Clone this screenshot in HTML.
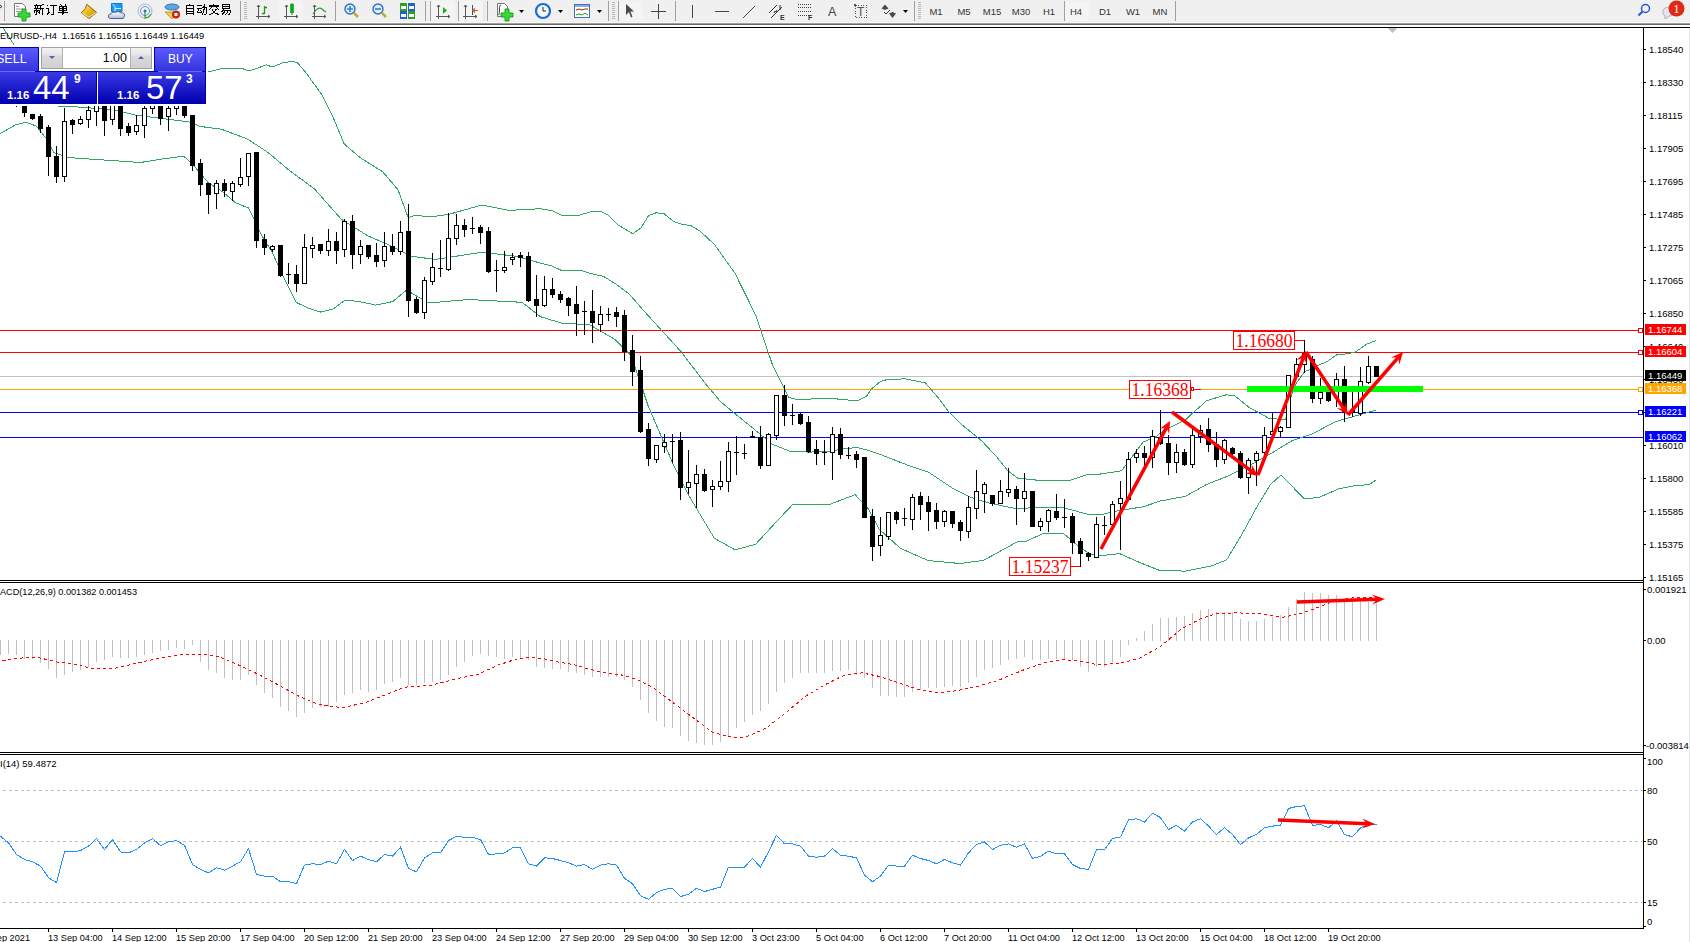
<!DOCTYPE html><html><head><meta charset="utf-8"><style>html,body{margin:0;padding:0;background:#fff;overflow:hidden;width:1690px;height:942px;} svg{display:block;font-family:"Liberation Sans", sans-serif;}</style></head><body>
<svg width="1690" height="942" viewBox="0 0 1690 942">
<rect x="0" y="0" width="1690" height="942" fill="#ffffff"/>
<rect x="0" y="0" width="1690" height="22" fill="#f0f0f0"/>
<rect x="0" y="22" width="1690" height="1" fill="#f8f8f8"/>
<rect x="0" y="23" width="1690" height="1" fill="#a0a0a0"/>
<rect x="0" y="24" width="1690" height="1" fill="#696969"/>
<rect x="0" y="27" width="1690" height="1" fill="#000000"/>
<g shape-rendering="crispEdges">
<rect x="1643" y="27" width="1" height="902" fill="#000"/>
<rect x="0" y="580" width="1644" height="1" fill="#000"/>
<rect x="0" y="582" width="1644" height="1" fill="#000"/>
<rect x="0" y="752" width="1644" height="1" fill="#000"/>
<rect x="0" y="754" width="1644" height="1" fill="#000"/>
<rect x="0" y="928" width="1644" height="1" fill="#000"/>
<rect x="1689" y="28" width="1" height="914" fill="#e3e3e3"/>
<polygon points="1388,28 1397,28 1392.5,33" fill="#c0c0c0"/>
<rect x="1644" y="49" width="2" height="1" fill="#000"/>
<text x="1649" y="53" font-size="9.5" fill="#000" text-anchor="start" font-weight="normal">1.18540</text>
<rect x="1644" y="82" width="2" height="1" fill="#000"/>
<text x="1649" y="86" font-size="9.5" fill="#000" text-anchor="start" font-weight="normal">1.18330</text>
<rect x="1644" y="115" width="2" height="1" fill="#000"/>
<text x="1649" y="119" font-size="9.5" fill="#000" text-anchor="start" font-weight="normal">1.18115</text>
<rect x="1644" y="148" width="2" height="1" fill="#000"/>
<text x="1649" y="152" font-size="9.5" fill="#000" text-anchor="start" font-weight="normal">1.17905</text>
<rect x="1644" y="181" width="2" height="1" fill="#000"/>
<text x="1649" y="185" font-size="9.5" fill="#000" text-anchor="start" font-weight="normal">1.17695</text>
<rect x="1644" y="214" width="2" height="1" fill="#000"/>
<text x="1649" y="218" font-size="9.5" fill="#000" text-anchor="start" font-weight="normal">1.17485</text>
<rect x="1644" y="247" width="2" height="1" fill="#000"/>
<text x="1649" y="251" font-size="9.5" fill="#000" text-anchor="start" font-weight="normal">1.17275</text>
<rect x="1644" y="280" width="2" height="1" fill="#000"/>
<text x="1649" y="284" font-size="9.5" fill="#000" text-anchor="start" font-weight="normal">1.17065</text>
<rect x="1644" y="313" width="2" height="1" fill="#000"/>
<text x="1649" y="317" font-size="9.5" fill="#000" text-anchor="start" font-weight="normal">1.16850</text>
<rect x="1644" y="346" width="2" height="1" fill="#000"/>
<text x="1649" y="350" font-size="9.5" fill="#000" text-anchor="start" font-weight="normal">1.16640</text>
<rect x="1644" y="379" width="2" height="1" fill="#000"/>
<text x="1649" y="383" font-size="9.5" fill="#000" text-anchor="start" font-weight="normal">1.16430</text>
<rect x="1644" y="412" width="2" height="1" fill="#000"/>
<text x="1649" y="416" font-size="9.5" fill="#000" text-anchor="start" font-weight="normal">1.16220</text>
<rect x="1644" y="445" width="2" height="1" fill="#000"/>
<text x="1649" y="449" font-size="9.5" fill="#000" text-anchor="start" font-weight="normal">1.16010</text>
<rect x="1644" y="478" width="2" height="1" fill="#000"/>
<text x="1649" y="482" font-size="9.5" fill="#000" text-anchor="start" font-weight="normal">1.15800</text>
<rect x="1644" y="511" width="2" height="1" fill="#000"/>
<text x="1649" y="515" font-size="9.5" fill="#000" text-anchor="start" font-weight="normal">1.15585</text>
<rect x="1644" y="544" width="2" height="1" fill="#000"/>
<text x="1649" y="548" font-size="9.5" fill="#000" text-anchor="start" font-weight="normal">1.15375</text>
<rect x="1644" y="577" width="2" height="1" fill="#000"/>
<text x="1649" y="581" font-size="9.5" fill="#000" text-anchor="start" font-weight="normal">1.15165</text>
<rect x="0" y="330" width="1643" height="1" fill="#ff0000"/>
<rect x="0" y="352" width="1643" height="1" fill="#ff0000"/>
<rect x="0" y="376" width="1643" height="1" fill="#c0c0c0"/>
<rect x="0" y="389" width="1643" height="1" fill="#ffa500"/>
<rect x="0" y="412" width="1643" height="1" fill="#0000ff"/>
<rect x="0" y="437" width="1643" height="1" fill="#0000ff"/>
</g>
<g shape-rendering="crispEdges">
<polyline points="3.5,28.5 14.3,45.2 40.5,62.5 80.5,72.5 120.5,74.5 160.5,72.5 208.2,72.0 224.1,68.1 241.9,68.4 249.0,71.1 266.5,64.9 272.1,67.0 284.5,62.2 293.5,61.7 297.4,62.8 305.5,72.1 322.0,94.9 332.5,115.9 344.2,143.9 360.5,157.9 382.7,171.8 398.0,189.7 408.2,217.7 414.1,215.5 431.8,216.7 448.5,214.4 481.9,205.0 508.5,210.4 540.5,208.7 553.3,211.0 560.9,215.1 579.6,215.1 590.7,211.8 601.8,211.8 608.2,215.1 617.5,224.5 632.7,233.8 640.9,227.9 648.5,215.7 656.1,212.8 664.3,213.9 673.6,221.5 680.6,223.9 691.1,225.7 700.5,231.5 714.3,244.3 735.0,273.3 755.5,314.7 772.3,364.3 788.8,397.5 797.1,399.5 830.2,398.3 857.1,400.9 866.5,396.2 871.1,389.2 880.5,381.5 884.0,380.1 904.7,378.8 925.5,383.0 937.9,397.5 949.2,412.4 961.7,424.6 982.1,441.2 997.4,457.7 1007.6,470.5 1017.8,478.1 1037.2,480.2 1070.3,480.2 1089.5,474.0 1100.5,474.0 1121.5,470.8 1143.0,442.1 1155.6,437.0 1162.4,431.5 1171.7,426.8 1181.1,422.1 1185.7,420.0 1192.9,412.8 1200.2,406.5 1206.5,400.7 1225.8,394.9 1234.3,395.4 1249.2,407.5 1268.3,418.0 1285.5,419.9 1290.5,398.0 1296.5,382.9 1304.5,371.8 1310.5,369.3 1318.5,365.2 1326.8,361.7 1336.9,354.7 1349.0,353.7 1356.0,351.6 1366.1,344.5 1376.2,340.5" fill="none" stroke="#2fa866" stroke-width="1"/>
<polyline points="0.5,98.5 40.5,103.5 61.5,106.5 77.5,107.0 101.1,108.8 118.8,111.1 136.5,115.3 160.3,118.3 188.5,121.8 200.5,126.5 221.2,129.1 247.9,139.2 268.0,152.5 288.0,169.3 314.8,189.3 341.5,219.4 368.3,236.1 388.3,244.5 411.7,256.2 435.1,259.5 481.9,252.2 515.5,256.2 540.5,263.1 552.2,266.0 560.9,270.2 580.2,270.2 591.9,273.8 603.5,276.4 616.5,284.5 629.2,293.9 643.3,310.3 648.1,315.5 681.2,351.9 706.1,384.5 720.5,401.5 732.2,411.4 750.9,426.5 771.9,444.0 790.5,451.5 809.5,452.1 830.2,451.3 844.2,448.7 857.1,447.5 866.5,449.9 880.5,454.5 911.0,466.5 928.0,471.8 953.5,488.8 970.5,497.3 987.5,502.6 1017.2,509.0 1034.2,507.5 1063.9,507.9 1089.5,514.7 1100.5,514.7 1121.5,510.1 1143.0,506.9 1160.0,501.1 1185.5,496.3 1206.5,484.5 1227.9,476.1 1249.2,465.5 1270.5,453.8 1291.5,441.0 1312.9,433.6 1335.2,421.8 1376.5,409.9" fill="none" stroke="#2fa866" stroke-width="1"/>
<polyline points="0.5,133.5 15.8,124.7 26.0,122.2 36.2,126.0 46.4,138.7 54.0,152.5 67.5,157.5 140.5,162.5 160.5,159.2 181.0,156.5 184.5,157.0 191.1,162.5 208.1,182.5 223.0,192.1 235.5,202.7 248.5,208.0 254.5,219.7 261.2,234.5 271.8,251.5 282.5,274.9 296.3,302.5 307.9,307.9 320.7,312.1 333.5,308.9 345.1,300.0 358.9,301.5 375.9,305.1 392.9,301.5 405.5,290.9 411.5,293.0 428.5,303.0 468.5,299.5 522.1,302.3 540.5,316.7 561.2,323.0 590.2,325.0 615.0,339.5 631.5,356.1 648.1,405.7 673.0,463.7 689.5,496.8 714.3,538.2 735.0,549.8 755.5,544.4 776.5,521.6 793.0,504.2 830.2,504.2 855.1,494.7 868.5,509.0 879.1,529.2 900.5,548.3 928.0,560.5 959.8,563.5 983.2,560.5 1017.2,541.9 1025.5,542.0 1027.5,540.5 1042.5,533.9 1063.9,533.9 1080.9,548.3 1091.5,554.7 1100.5,555.7 1119.5,553.6 1138.7,562.1 1160.0,570.6 1186.0,571.1 1211.5,566.0 1226.8,559.7 1242.0,534.2 1257.3,506.1 1270.5,484.5 1281.0,475.0 1304.5,499.0 1319.3,497.3 1339.0,488.7 1354.3,485.8 1369.5,484.5 1376.5,479.5" fill="none" stroke="#2fa866" stroke-width="1"/>
</g>
<g shape-rendering="crispEdges">
<rect x="16" y="95" width="1" height="12" fill="#000"/>
<rect x="14" y="98" width="5" height="6" fill="#000"/>
<rect x="24" y="95" width="1" height="22" fill="#000"/>
<rect x="22" y="100" width="5" height="13" fill="#000"/>
<rect x="32" y="114" width="1" height="6" fill="#000"/>
<rect x="30" y="114" width="5" height="5" fill="#000"/>
<rect x="40" y="114" width="1" height="19" fill="#000"/>
<rect x="38" y="116" width="5" height="13" fill="#000"/>
<rect x="48" y="125" width="1" height="51" fill="#000"/>
<rect x="46" y="127" width="5" height="30" fill="#000"/>
<rect x="56" y="146" width="1" height="37" fill="#000"/>
<rect x="54" y="156" width="5" height="21" fill="#000"/>
<rect x="64" y="108" width="1" height="74" fill="#000"/>
<rect x="62" y="121" width="5" height="56" fill="#000"/>
<rect x="63" y="122" width="3" height="54" fill="#fff"/>
<rect x="72" y="119" width="1" height="15" fill="#000"/>
<rect x="70" y="120" width="5" height="5" fill="#000"/>
<rect x="80" y="116" width="1" height="9" fill="#000"/>
<rect x="78" y="119" width="5" height="5" fill="#000"/>
<rect x="79" y="120" width="3" height="3" fill="#fff"/>
<rect x="88" y="106" width="1" height="22" fill="#000"/>
<rect x="86" y="110" width="5" height="10" fill="#000"/>
<rect x="87" y="111" width="3" height="8" fill="#fff"/>
<rect x="96" y="98" width="1" height="28" fill="#000"/>
<rect x="94" y="100" width="5" height="12" fill="#000"/>
<rect x="95" y="101" width="3" height="10" fill="#fff"/>
<rect x="104" y="98" width="1" height="38" fill="#000"/>
<rect x="102" y="100" width="5" height="21" fill="#000"/>
<rect x="112" y="98" width="1" height="27" fill="#000"/>
<rect x="110" y="102" width="5" height="18" fill="#000"/>
<rect x="111" y="103" width="3" height="16" fill="#fff"/>
<rect x="120" y="98" width="1" height="38" fill="#000"/>
<rect x="118" y="100" width="5" height="29" fill="#000"/>
<rect x="128" y="123" width="1" height="13" fill="#000"/>
<rect x="126" y="126" width="5" height="7" fill="#000"/>
<rect x="136" y="115" width="1" height="20" fill="#000"/>
<rect x="134" y="125" width="5" height="7" fill="#000"/>
<rect x="135" y="126" width="3" height="5" fill="#fff"/>
<rect x="144" y="106" width="1" height="32" fill="#000"/>
<rect x="142" y="108" width="5" height="18" fill="#000"/>
<rect x="143" y="109" width="3" height="16" fill="#fff"/>
<rect x="152" y="98" width="1" height="16" fill="#000"/>
<rect x="150" y="100" width="5" height="9" fill="#000"/>
<rect x="151" y="101" width="3" height="7" fill="#fff"/>
<rect x="160" y="98" width="1" height="27" fill="#000"/>
<rect x="158" y="100" width="5" height="19" fill="#000"/>
<rect x="168" y="106" width="1" height="25" fill="#000"/>
<rect x="166" y="108" width="5" height="9" fill="#000"/>
<rect x="167" y="109" width="3" height="7" fill="#fff"/>
<rect x="176" y="98" width="1" height="17" fill="#000"/>
<rect x="174" y="100" width="5" height="9" fill="#000"/>
<rect x="175" y="101" width="3" height="7" fill="#fff"/>
<rect x="184" y="98" width="1" height="20" fill="#000"/>
<rect x="182" y="100" width="5" height="16" fill="#000"/>
<rect x="192" y="115" width="1" height="56" fill="#000"/>
<rect x="190" y="115" width="5" height="51" fill="#000"/>
<rect x="200" y="159" width="1" height="37" fill="#000"/>
<rect x="198" y="163" width="5" height="22" fill="#000"/>
<rect x="208" y="183" width="1" height="31" fill="#000"/>
<rect x="206" y="183" width="5" height="12" fill="#000"/>
<rect x="216" y="180" width="1" height="29" fill="#000"/>
<rect x="214" y="183" width="5" height="11" fill="#000"/>
<rect x="215" y="184" width="3" height="9" fill="#fff"/>
<rect x="224" y="179" width="1" height="18" fill="#000"/>
<rect x="222" y="183" width="5" height="8" fill="#000"/>
<rect x="232" y="181" width="1" height="20" fill="#000"/>
<rect x="230" y="183" width="5" height="9" fill="#000"/>
<rect x="231" y="184" width="3" height="7" fill="#fff"/>
<rect x="240" y="158" width="1" height="29" fill="#000"/>
<rect x="238" y="177" width="5" height="8" fill="#000"/>
<rect x="239" y="178" width="3" height="6" fill="#fff"/>
<rect x="248" y="153" width="1" height="33" fill="#000"/>
<rect x="246" y="153" width="5" height="24" fill="#000"/>
<rect x="247" y="154" width="3" height="22" fill="#fff"/>
<rect x="256" y="152" width="1" height="96" fill="#000"/>
<rect x="254" y="152" width="5" height="89" fill="#000"/>
<rect x="264" y="234" width="1" height="21" fill="#000"/>
<rect x="262" y="239" width="5" height="9" fill="#000"/>
<rect x="272" y="245" width="1" height="7" fill="#000"/>
<rect x="270" y="246" width="5" height="4" fill="#000"/>
<rect x="271" y="247" width="3" height="2" fill="#fff"/>
<rect x="280" y="245" width="1" height="32" fill="#000"/>
<rect x="278" y="245" width="5" height="31" fill="#000"/>
<rect x="288" y="263" width="1" height="21" fill="#000"/>
<rect x="286" y="274" width="5" height="1" fill="#000"/>
<rect x="296" y="265" width="1" height="27" fill="#000"/>
<rect x="294" y="274" width="5" height="10" fill="#000"/>
<rect x="304" y="234" width="1" height="50" fill="#000"/>
<rect x="302" y="247" width="5" height="37" fill="#000"/>
<rect x="303" y="248" width="3" height="35" fill="#fff"/>
<rect x="312" y="237" width="1" height="21" fill="#000"/>
<rect x="310" y="245" width="5" height="4" fill="#000"/>
<rect x="311" y="246" width="3" height="2" fill="#fff"/>
<rect x="320" y="244" width="1" height="10" fill="#000"/>
<rect x="318" y="244" width="5" height="7" fill="#000"/>
<rect x="328" y="229" width="1" height="27" fill="#000"/>
<rect x="326" y="241" width="5" height="10" fill="#000"/>
<rect x="327" y="242" width="3" height="8" fill="#fff"/>
<rect x="336" y="232" width="1" height="32" fill="#000"/>
<rect x="334" y="241" width="5" height="10" fill="#000"/>
<rect x="344" y="219" width="1" height="38" fill="#000"/>
<rect x="342" y="221" width="5" height="29" fill="#000"/>
<rect x="343" y="222" width="3" height="27" fill="#fff"/>
<rect x="352" y="215" width="1" height="54" fill="#000"/>
<rect x="350" y="221" width="5" height="34" fill="#000"/>
<rect x="360" y="240" width="1" height="24" fill="#000"/>
<rect x="358" y="246" width="5" height="9" fill="#000"/>
<rect x="359" y="247" width="3" height="7" fill="#fff"/>
<rect x="368" y="245" width="1" height="14" fill="#000"/>
<rect x="366" y="245" width="5" height="12" fill="#000"/>
<rect x="376" y="243" width="1" height="24" fill="#000"/>
<rect x="374" y="255" width="5" height="7" fill="#000"/>
<rect x="384" y="232" width="1" height="35" fill="#000"/>
<rect x="382" y="246" width="5" height="15" fill="#000"/>
<rect x="383" y="247" width="3" height="13" fill="#fff"/>
<rect x="392" y="234" width="1" height="21" fill="#000"/>
<rect x="390" y="246" width="5" height="6" fill="#000"/>
<rect x="400" y="221" width="1" height="34" fill="#000"/>
<rect x="398" y="232" width="5" height="20" fill="#000"/>
<rect x="399" y="233" width="3" height="18" fill="#fff"/>
<rect x="408" y="204" width="1" height="113" fill="#000"/>
<rect x="406" y="231" width="5" height="70" fill="#000"/>
<rect x="416" y="297" width="1" height="17" fill="#000"/>
<rect x="414" y="299" width="5" height="14" fill="#000"/>
<rect x="424" y="277" width="1" height="42" fill="#000"/>
<rect x="422" y="280" width="5" height="33" fill="#000"/>
<rect x="423" y="281" width="3" height="31" fill="#fff"/>
<rect x="432" y="253" width="1" height="32" fill="#000"/>
<rect x="430" y="267" width="5" height="15" fill="#000"/>
<rect x="431" y="268" width="3" height="13" fill="#fff"/>
<rect x="440" y="240" width="1" height="37" fill="#000"/>
<rect x="438" y="268" width="5" height="1" fill="#000"/>
<rect x="448" y="213" width="1" height="58" fill="#000"/>
<rect x="446" y="238" width="5" height="32" fill="#000"/>
<rect x="447" y="239" width="3" height="30" fill="#fff"/>
<rect x="456" y="214" width="1" height="31" fill="#000"/>
<rect x="454" y="225" width="5" height="14" fill="#000"/>
<rect x="455" y="226" width="3" height="12" fill="#fff"/>
<rect x="464" y="219" width="1" height="18" fill="#000"/>
<rect x="462" y="225" width="5" height="5" fill="#000"/>
<rect x="472" y="217" width="1" height="17" fill="#000"/>
<rect x="470" y="228" width="5" height="1" fill="#000"/>
<rect x="480" y="225" width="1" height="19" fill="#000"/>
<rect x="478" y="227" width="5" height="6" fill="#000"/>
<rect x="488" y="227" width="1" height="46" fill="#000"/>
<rect x="486" y="231" width="5" height="41" fill="#000"/>
<rect x="496" y="260" width="1" height="32" fill="#000"/>
<rect x="494" y="270" width="5" height="1" fill="#000"/>
<rect x="504" y="251" width="1" height="22" fill="#000"/>
<rect x="502" y="267" width="5" height="4" fill="#000"/>
<rect x="503" y="268" width="3" height="2" fill="#fff"/>
<rect x="512" y="253" width="1" height="12" fill="#000"/>
<rect x="510" y="257" width="5" height="3" fill="#000"/>
<rect x="511" y="258" width="3" height="1" fill="#fff"/>
<rect x="520" y="252" width="1" height="15" fill="#000"/>
<rect x="518" y="255" width="5" height="3" fill="#000"/>
<rect x="528" y="252" width="1" height="50" fill="#000"/>
<rect x="526" y="256" width="5" height="45" fill="#000"/>
<rect x="536" y="275" width="1" height="42" fill="#000"/>
<rect x="534" y="299" width="5" height="7" fill="#000"/>
<rect x="544" y="276" width="1" height="31" fill="#000"/>
<rect x="542" y="289" width="5" height="17" fill="#000"/>
<rect x="543" y="290" width="3" height="15" fill="#fff"/>
<rect x="552" y="278" width="1" height="20" fill="#000"/>
<rect x="550" y="289" width="5" height="6" fill="#000"/>
<rect x="560" y="291" width="1" height="12" fill="#000"/>
<rect x="558" y="294" width="5" height="6" fill="#000"/>
<rect x="568" y="297" width="1" height="19" fill="#000"/>
<rect x="566" y="298" width="5" height="8" fill="#000"/>
<rect x="576" y="286" width="1" height="50" fill="#000"/>
<rect x="574" y="304" width="5" height="10" fill="#000"/>
<rect x="584" y="301" width="1" height="34" fill="#000"/>
<rect x="582" y="311" width="5" height="1" fill="#000"/>
<rect x="592" y="290" width="1" height="53" fill="#000"/>
<rect x="590" y="311" width="5" height="12" fill="#000"/>
<rect x="600" y="306" width="1" height="26" fill="#000"/>
<rect x="598" y="314" width="5" height="11" fill="#000"/>
<rect x="599" y="315" width="3" height="9" fill="#fff"/>
<rect x="608" y="308" width="1" height="13" fill="#000"/>
<rect x="606" y="314" width="5" height="1" fill="#000"/>
<rect x="616" y="307" width="1" height="20" fill="#000"/>
<rect x="614" y="312" width="5" height="5" fill="#000"/>
<rect x="624" y="310" width="1" height="51" fill="#000"/>
<rect x="622" y="315" width="5" height="37" fill="#000"/>
<rect x="632" y="335" width="1" height="51" fill="#000"/>
<rect x="630" y="350" width="5" height="22" fill="#000"/>
<rect x="640" y="356" width="1" height="77" fill="#000"/>
<rect x="638" y="370" width="5" height="62" fill="#000"/>
<rect x="648" y="423" width="1" height="43" fill="#000"/>
<rect x="646" y="429" width="5" height="30" fill="#000"/>
<rect x="656" y="445" width="1" height="18" fill="#000"/>
<rect x="654" y="445" width="5" height="15" fill="#000"/>
<rect x="655" y="446" width="3" height="13" fill="#fff"/>
<rect x="664" y="434" width="1" height="19" fill="#000"/>
<rect x="662" y="442" width="5" height="5" fill="#000"/>
<rect x="663" y="443" width="3" height="3" fill="#fff"/>
<rect x="672" y="434" width="1" height="29" fill="#000"/>
<rect x="670" y="441" width="5" height="1" fill="#000"/>
<rect x="680" y="432" width="1" height="68" fill="#000"/>
<rect x="678" y="440" width="5" height="48" fill="#000"/>
<rect x="688" y="450" width="1" height="44" fill="#000"/>
<rect x="686" y="482" width="5" height="6" fill="#000"/>
<rect x="687" y="483" width="3" height="4" fill="#fff"/>
<rect x="696" y="465" width="1" height="43" fill="#000"/>
<rect x="694" y="474" width="5" height="10" fill="#000"/>
<rect x="695" y="475" width="3" height="8" fill="#fff"/>
<rect x="704" y="469" width="1" height="23" fill="#000"/>
<rect x="702" y="474" width="5" height="17" fill="#000"/>
<rect x="712" y="480" width="1" height="27" fill="#000"/>
<rect x="710" y="486" width="5" height="4" fill="#000"/>
<rect x="711" y="487" width="3" height="2" fill="#fff"/>
<rect x="720" y="461" width="1" height="29" fill="#000"/>
<rect x="718" y="481" width="5" height="6" fill="#000"/>
<rect x="719" y="482" width="3" height="4" fill="#fff"/>
<rect x="728" y="442" width="1" height="50" fill="#000"/>
<rect x="726" y="451" width="5" height="31" fill="#000"/>
<rect x="727" y="452" width="3" height="29" fill="#fff"/>
<rect x="736" y="436" width="1" height="39" fill="#000"/>
<rect x="734" y="452" width="5" height="1" fill="#000"/>
<rect x="744" y="444" width="1" height="15" fill="#000"/>
<rect x="742" y="453" width="5" height="1" fill="#000"/>
<rect x="752" y="431" width="1" height="7" fill="#000"/>
<rect x="750" y="436" width="5" height="2" fill="#000"/>
<rect x="760" y="426" width="1" height="43" fill="#000"/>
<rect x="758" y="437" width="5" height="29" fill="#000"/>
<rect x="768" y="433" width="1" height="33" fill="#000"/>
<rect x="766" y="434" width="5" height="32" fill="#000"/>
<rect x="767" y="435" width="3" height="30" fill="#fff"/>
<rect x="776" y="395" width="1" height="45" fill="#000"/>
<rect x="774" y="395" width="5" height="41" fill="#000"/>
<rect x="775" y="396" width="3" height="39" fill="#fff"/>
<rect x="784" y="385" width="1" height="41" fill="#000"/>
<rect x="782" y="395" width="5" height="21" fill="#000"/>
<rect x="792" y="404" width="1" height="21" fill="#000"/>
<rect x="790" y="415" width="5" height="1" fill="#000"/>
<rect x="800" y="413" width="1" height="12" fill="#000"/>
<rect x="798" y="414" width="5" height="10" fill="#000"/>
<rect x="808" y="416" width="1" height="37" fill="#000"/>
<rect x="806" y="422" width="5" height="30" fill="#000"/>
<rect x="816" y="440" width="1" height="25" fill="#000"/>
<rect x="814" y="449" width="5" height="5" fill="#000"/>
<rect x="824" y="440" width="1" height="25" fill="#000"/>
<rect x="822" y="452" width="5" height="1" fill="#000"/>
<rect x="832" y="427" width="1" height="53" fill="#000"/>
<rect x="830" y="434" width="5" height="19" fill="#000"/>
<rect x="831" y="435" width="3" height="17" fill="#fff"/>
<rect x="840" y="428" width="1" height="31" fill="#000"/>
<rect x="838" y="434" width="5" height="21" fill="#000"/>
<rect x="848" y="447" width="1" height="12" fill="#000"/>
<rect x="846" y="455" width="5" height="1" fill="#000"/>
<rect x="856" y="451" width="1" height="17" fill="#000"/>
<rect x="854" y="454" width="5" height="6" fill="#000"/>
<rect x="864" y="457" width="1" height="61" fill="#000"/>
<rect x="862" y="457" width="5" height="61" fill="#000"/>
<rect x="872" y="509" width="1" height="52" fill="#000"/>
<rect x="870" y="516" width="5" height="31" fill="#000"/>
<rect x="880" y="517" width="1" height="39" fill="#000"/>
<rect x="878" y="535" width="5" height="11" fill="#000"/>
<rect x="879" y="536" width="3" height="9" fill="#fff"/>
<rect x="888" y="512" width="1" height="28" fill="#000"/>
<rect x="886" y="512" width="5" height="25" fill="#000"/>
<rect x="887" y="513" width="3" height="23" fill="#fff"/>
<rect x="896" y="511" width="1" height="13" fill="#000"/>
<rect x="894" y="512" width="5" height="8" fill="#000"/>
<rect x="904" y="508" width="1" height="18" fill="#000"/>
<rect x="902" y="518" width="5" height="1" fill="#000"/>
<rect x="912" y="494" width="1" height="36" fill="#000"/>
<rect x="910" y="497" width="5" height="23" fill="#000"/>
<rect x="911" y="498" width="3" height="21" fill="#fff"/>
<rect x="920" y="492" width="1" height="28" fill="#000"/>
<rect x="918" y="496" width="5" height="9" fill="#000"/>
<rect x="928" y="496" width="1" height="35" fill="#000"/>
<rect x="926" y="502" width="5" height="10" fill="#000"/>
<rect x="936" y="503" width="1" height="26" fill="#000"/>
<rect x="934" y="510" width="5" height="12" fill="#000"/>
<rect x="944" y="510" width="1" height="17" fill="#000"/>
<rect x="942" y="511" width="5" height="11" fill="#000"/>
<rect x="943" y="512" width="3" height="9" fill="#fff"/>
<rect x="952" y="511" width="1" height="17" fill="#000"/>
<rect x="950" y="511" width="5" height="13" fill="#000"/>
<rect x="960" y="520" width="1" height="21" fill="#000"/>
<rect x="958" y="522" width="5" height="9" fill="#000"/>
<rect x="968" y="496" width="1" height="42" fill="#000"/>
<rect x="966" y="507" width="5" height="25" fill="#000"/>
<rect x="967" y="508" width="3" height="23" fill="#fff"/>
<rect x="976" y="470" width="1" height="49" fill="#000"/>
<rect x="974" y="491" width="5" height="18" fill="#000"/>
<rect x="975" y="492" width="3" height="16" fill="#fff"/>
<rect x="984" y="482" width="1" height="31" fill="#000"/>
<rect x="982" y="484" width="5" height="10" fill="#000"/>
<rect x="983" y="485" width="3" height="8" fill="#fff"/>
<rect x="992" y="495" width="1" height="11" fill="#000"/>
<rect x="990" y="495" width="5" height="9" fill="#000"/>
<rect x="1000" y="480" width="1" height="24" fill="#000"/>
<rect x="998" y="491" width="5" height="13" fill="#000"/>
<rect x="999" y="492" width="3" height="11" fill="#fff"/>
<rect x="1008" y="468" width="1" height="29" fill="#000"/>
<rect x="1006" y="489" width="5" height="4" fill="#000"/>
<rect x="1007" y="490" width="3" height="2" fill="#fff"/>
<rect x="1016" y="486" width="1" height="39" fill="#000"/>
<rect x="1014" y="489" width="5" height="10" fill="#000"/>
<rect x="1024" y="473" width="1" height="39" fill="#000"/>
<rect x="1022" y="491" width="5" height="8" fill="#000"/>
<rect x="1023" y="492" width="3" height="6" fill="#fff"/>
<rect x="1032" y="491" width="1" height="36" fill="#000"/>
<rect x="1030" y="491" width="5" height="36" fill="#000"/>
<rect x="1040" y="518" width="1" height="13" fill="#000"/>
<rect x="1038" y="521" width="5" height="6" fill="#000"/>
<rect x="1039" y="522" width="3" height="4" fill="#fff"/>
<rect x="1048" y="509" width="1" height="23" fill="#000"/>
<rect x="1046" y="510" width="5" height="12" fill="#000"/>
<rect x="1047" y="511" width="3" height="10" fill="#fff"/>
<rect x="1056" y="494" width="1" height="26" fill="#000"/>
<rect x="1054" y="511" width="5" height="7" fill="#000"/>
<rect x="1064" y="499" width="1" height="29" fill="#000"/>
<rect x="1062" y="517" width="5" height="1" fill="#000"/>
<rect x="1072" y="513" width="1" height="41" fill="#000"/>
<rect x="1070" y="516" width="5" height="27" fill="#000"/>
<rect x="1080" y="538" width="1" height="29" fill="#000"/>
<rect x="1078" y="541" width="5" height="13" fill="#000"/>
<rect x="1088" y="552" width="1" height="9" fill="#000"/>
<rect x="1086" y="553" width="5" height="4" fill="#000"/>
<rect x="1096" y="517" width="1" height="41" fill="#000"/>
<rect x="1094" y="524" width="5" height="34" fill="#000"/>
<rect x="1095" y="525" width="3" height="32" fill="#fff"/>
<rect x="1104" y="516" width="1" height="19" fill="#000"/>
<rect x="1102" y="525" width="5" height="1" fill="#000"/>
<rect x="1112" y="501" width="1" height="24" fill="#000"/>
<rect x="1110" y="504" width="5" height="21" fill="#000"/>
<rect x="1111" y="505" width="3" height="19" fill="#fff"/>
<rect x="1120" y="481" width="1" height="69" fill="#000"/>
<rect x="1118" y="498" width="5" height="6" fill="#000"/>
<rect x="1119" y="499" width="3" height="4" fill="#fff"/>
<rect x="1128" y="452" width="1" height="48" fill="#000"/>
<rect x="1126" y="459" width="5" height="41" fill="#000"/>
<rect x="1127" y="460" width="3" height="39" fill="#fff"/>
<rect x="1136" y="449" width="1" height="14" fill="#000"/>
<rect x="1134" y="453" width="5" height="5" fill="#000"/>
<rect x="1135" y="454" width="3" height="3" fill="#fff"/>
<rect x="1144" y="446" width="1" height="20" fill="#000"/>
<rect x="1142" y="453" width="5" height="5" fill="#000"/>
<rect x="1152" y="430" width="1" height="38" fill="#000"/>
<rect x="1150" y="436" width="5" height="22" fill="#000"/>
<rect x="1151" y="437" width="3" height="20" fill="#fff"/>
<rect x="1160" y="410" width="1" height="35" fill="#000"/>
<rect x="1158" y="437" width="5" height="7" fill="#000"/>
<rect x="1168" y="435" width="1" height="40" fill="#000"/>
<rect x="1166" y="443" width="5" height="20" fill="#000"/>
<rect x="1176" y="444" width="1" height="29" fill="#000"/>
<rect x="1174" y="452" width="5" height="11" fill="#000"/>
<rect x="1175" y="453" width="3" height="9" fill="#fff"/>
<rect x="1184" y="449" width="1" height="17" fill="#000"/>
<rect x="1182" y="452" width="5" height="13" fill="#000"/>
<rect x="1192" y="429" width="1" height="39" fill="#000"/>
<rect x="1190" y="435" width="5" height="30" fill="#000"/>
<rect x="1191" y="436" width="3" height="28" fill="#fff"/>
<rect x="1200" y="425" width="1" height="18" fill="#000"/>
<rect x="1198" y="430" width="5" height="7" fill="#000"/>
<rect x="1199" y="431" width="3" height="5" fill="#fff"/>
<rect x="1208" y="418" width="1" height="34" fill="#000"/>
<rect x="1206" y="429" width="5" height="16" fill="#000"/>
<rect x="1216" y="432" width="1" height="35" fill="#000"/>
<rect x="1214" y="444" width="5" height="16" fill="#000"/>
<rect x="1224" y="439" width="1" height="25" fill="#000"/>
<rect x="1222" y="440" width="5" height="20" fill="#000"/>
<rect x="1223" y="441" width="3" height="18" fill="#fff"/>
<rect x="1232" y="447" width="1" height="9" fill="#000"/>
<rect x="1230" y="448" width="5" height="6" fill="#000"/>
<rect x="1240" y="451" width="1" height="28" fill="#000"/>
<rect x="1238" y="453" width="5" height="25" fill="#000"/>
<rect x="1248" y="458" width="1" height="36" fill="#000"/>
<rect x="1246" y="460" width="5" height="18" fill="#000"/>
<rect x="1247" y="461" width="3" height="16" fill="#fff"/>
<rect x="1256" y="451" width="1" height="35" fill="#000"/>
<rect x="1254" y="453" width="5" height="8" fill="#000"/>
<rect x="1255" y="454" width="3" height="6" fill="#fff"/>
<rect x="1264" y="427" width="1" height="28" fill="#000"/>
<rect x="1262" y="435" width="5" height="18" fill="#000"/>
<rect x="1263" y="436" width="3" height="16" fill="#fff"/>
<rect x="1272" y="412" width="1" height="24" fill="#000"/>
<rect x="1270" y="431" width="5" height="4" fill="#000"/>
<rect x="1271" y="432" width="3" height="2" fill="#fff"/>
<rect x="1280" y="426" width="1" height="11" fill="#000"/>
<rect x="1278" y="427" width="5" height="5" fill="#000"/>
<rect x="1279" y="428" width="3" height="3" fill="#fff"/>
<rect x="1288" y="375" width="1" height="53" fill="#000"/>
<rect x="1286" y="375" width="5" height="53" fill="#000"/>
<rect x="1287" y="376" width="3" height="51" fill="#fff"/>
<rect x="1296" y="358" width="1" height="20" fill="#000"/>
<rect x="1294" y="364" width="5" height="13" fill="#000"/>
<rect x="1295" y="365" width="3" height="11" fill="#fff"/>
<rect x="1304" y="340" width="1" height="33" fill="#000"/>
<rect x="1302" y="353" width="5" height="12" fill="#000"/>
<rect x="1303" y="354" width="3" height="10" fill="#fff"/>
<rect x="1312" y="356" width="1" height="47" fill="#000"/>
<rect x="1310" y="359" width="5" height="40" fill="#000"/>
<rect x="1320" y="378" width="1" height="26" fill="#000"/>
<rect x="1318" y="392" width="5" height="7" fill="#000"/>
<rect x="1319" y="393" width="3" height="5" fill="#fff"/>
<rect x="1328" y="392" width="1" height="10" fill="#000"/>
<rect x="1326" y="392" width="5" height="9" fill="#000"/>
<rect x="1336" y="373" width="1" height="34" fill="#000"/>
<rect x="1334" y="379" width="5" height="19" fill="#000"/>
<rect x="1335" y="380" width="3" height="17" fill="#fff"/>
<rect x="1344" y="366" width="1" height="56" fill="#000"/>
<rect x="1342" y="379" width="5" height="34" fill="#000"/>
<rect x="1352" y="391" width="1" height="26" fill="#000"/>
<rect x="1350" y="410" width="5" height="3" fill="#000"/>
<rect x="1360" y="367" width="1" height="49" fill="#000"/>
<rect x="1358" y="381" width="5" height="33" fill="#000"/>
<rect x="1359" y="382" width="3" height="31" fill="#fff"/>
<rect x="1368" y="356" width="1" height="28" fill="#000"/>
<rect x="1366" y="366" width="5" height="17" fill="#000"/>
<rect x="1367" y="367" width="3" height="15" fill="#fff"/>
<rect x="1376" y="366" width="1" height="11" fill="#000"/>
<rect x="1374" y="366" width="5" height="11" fill="#000"/>
</g>
<g shape-rendering="crispEdges">
<rect x="1638.5" y="328.5" width="4" height="4" fill="#fff" stroke="#ff0000" stroke-width="1"/>
<rect x="1638.5" y="350.5" width="4" height="4" fill="#fff" stroke="#ff0000" stroke-width="1"/>
<rect x="1638.5" y="387.5" width="4" height="4" fill="#fff" stroke="#ffa500" stroke-width="1"/>
<rect x="1638.5" y="410.5" width="4" height="4" fill="#fff" stroke="#0000ff" stroke-width="1"/>
<rect x="1645" y="324" width="41" height="11" fill="#ff0000"/>
<rect x="1645" y="346" width="41" height="11" fill="#ff0000"/>
<rect x="1645" y="370" width="41" height="11" fill="#000000"/>
<rect x="1645" y="383" width="41" height="11" fill="#ffa500"/>
<rect x="1645" y="406" width="41" height="11" fill="#0000ff"/>
<rect x="1645" y="431" width="41" height="11" fill="#0000ff"/>
</g>
<text x="1648" y="333" font-size="9.5" fill="#fff" text-anchor="start" font-weight="normal">1.16744</text>
<text x="1648" y="355" font-size="9.5" fill="#fff" text-anchor="start" font-weight="normal">1.16604</text>
<text x="1648" y="379" font-size="9.5" fill="#fff" text-anchor="start" font-weight="normal">1.16449</text>
<text x="1648" y="392" font-size="9.5" fill="#fff" text-anchor="start" font-weight="normal">1.16368</text>
<text x="1648" y="415" font-size="9.5" fill="#fff" text-anchor="start" font-weight="normal">1.16221</text>
<text x="1648" y="440" font-size="9.5" fill="#fff" text-anchor="start" font-weight="normal">1.16062</text>
<rect x="1247" y="386" width="176" height="6" fill="#00ff00"/>
<line x1="1101" y1="549" x2="1166.6" y2="427.3" stroke="#ff0000" stroke-width="3.5"/>
<polygon points="1170,421 1169.1,434.2 1166.6,427.3 1159.5,429.0" fill="#ff0000"/>
<line x1="1172" y1="412" x2="1252.2" y2="471.7" stroke="#ff0000" stroke-width="3.5"/>
<polygon points="1258,476 1245.1,473.2 1252.2,471.7 1251.7,464.4" fill="#ff0000"/>
<line x1="1258" y1="475" x2="1303.4" y2="357.7" stroke="#ff0000" stroke-width="3.5"/>
<polygon points="1306,351 1306.8,364.2 1303.4,357.7 1296.5,360.2" fill="#ff0000"/>
<line x1="1306" y1="352" x2="1344.0" y2="409.0" stroke="#ff0000" stroke-width="3.5"/>
<polygon points="1348,415 1336.8,408.1 1344.0,409.0 1345.9,402.0" fill="#ff0000"/>
<line x1="1348" y1="415" x2="1398.3" y2="357.4" stroke="#ff0000" stroke-width="3.5"/>
<polygon points="1403,352 1399.3,364.7 1398.3,357.4 1391.0,357.4" fill="#ff0000"/>
<rect x="1233.5" y="331.5" width="61" height="18" fill="#fff" stroke="#ff0000" stroke-width="1" shape-rendering="crispEdges"/>
<text x="1235.5" y="347.4" font-size="18.5" fill="#ff0000" textLength="57" lengthAdjust="spacingAndGlyphs" font-family="Liberation Serif, serif">1.16680</text>
<rect x="1295" y="340" width="9" height="1" fill="#ff0000"/>
<rect x="1129.5" y="380.5" width="61" height="18" fill="#fff" stroke="#ff0000" stroke-width="1" shape-rendering="crispEdges"/>
<text x="1131.5" y="396.4" font-size="18.5" fill="#ff0000" textLength="57" lengthAdjust="spacingAndGlyphs" font-family="Liberation Serif, serif">1.16368</text>
<rect x="1191.5" y="387.5" width="2" height="3" fill="#fff" stroke="#ff0000" shape-rendering="crispEdges"/>
<rect x="1194" y="389" width="7" height="1" fill="#ff0000"/>
<rect x="1009.5" y="557.5" width="61" height="18" fill="#fff" stroke="#ff0000" stroke-width="1" shape-rendering="crispEdges"/>
<text x="1011.5" y="573.4" font-size="18.5" fill="#ff0000" textLength="57" lengthAdjust="spacingAndGlyphs" font-family="Liberation Serif, serif">1.15237</text>
<rect x="1071" y="566" width="9" height="1" fill="#ff0000"/>
<text x="0" y="39" font-size="9.3" fill="#000" text-anchor="start" font-weight="normal">EURUSD-,H4&#160;&#160;1.16516 1.16516 1.16449 1.16449</text>
<defs>
<linearGradient id="gbtn" x1="0" y1="0" x2="0" y2="1"><stop offset="0" stop-color="#5a5aff"/><stop offset="1" stop-color="#3434dc"/></linearGradient>
<linearGradient id="gprice" x1="0" y1="0" x2="0" y2="1"><stop offset="0" stop-color="#3a3ae6"/><stop offset="1" stop-color="#0000b0"/></linearGradient>
<linearGradient id="gspin" x1="0" y1="0" x2="0" y2="1"><stop offset="0" stop-color="#f2f2f2"/><stop offset="0.35" stop-color="#e6e6e6"/><stop offset="0.4" stop-color="#dadada"/><stop offset="1" stop-color="#d0d0d0"/></linearGradient>
</defs>
<g shape-rendering="crispEdges">
<rect x="0" y="45" width="207" height="61" fill="#ffffff"/>
<rect x="0" y="47" width="39" height="25" fill="#0000a8"/>
<rect x="0" y="48" width="38" height="23" fill="url(#gbtn)"/>
<rect x="0" y="71" width="35" height="1" fill="#6a6aff"/>
<rect x="154" y="47" width="52" height="25" fill="#0000a8"/>
<rect x="155" y="48" width="50" height="23" fill="url(#gbtn)"/>
<rect x="158" y="71" width="44" height="1" fill="#6a6aff"/>
<rect x="0" y="72" width="97" height="32" fill="#0000a8"/>
<rect x="0" y="72" width="96" height="31" fill="url(#gprice)"/>
<rect x="98" y="72" width="108" height="32" fill="#0000a8"/>
<rect x="98" y="72" width="107" height="31" fill="url(#gprice)"/>
<rect x="39" y="71" width="115" height="1" fill="#0000a8"/>
<rect x="41" y="47" width="111" height="22" fill="#a0a0a0"/>
<rect x="42" y="48" width="109" height="20" fill="#ffffff"/>
<rect x="42" y="48" width="20" height="20" fill="url(#gspin)"/>
<rect x="62" y="48" width="1" height="20" fill="#b0b0b0"/>
<rect x="131" y="48" width="20" height="20" fill="url(#gspin)"/>
<rect x="130" y="48" width="1" height="20" fill="#b0b0b0"/>
</g>
<polygon points="49,56 55,56 52,59" fill="#5060b0"/>
<polygon points="138,59 144,59 141,56" fill="#5060b0"/>
<text x="-4" y="63" font-size="12.5" fill="#fff" text-anchor="start" font-weight="normal">SELL</text>
<text x="168" y="63" font-size="12" fill="#fff" text-anchor="start" font-weight="normal">BUY</text>
<text x="127" y="62" font-size="12.5" fill="#000" text-anchor="end" font-weight="normal">1.00</text>
<text x="7" y="99" font-size="11.5" fill="#fff" text-anchor="start" font-weight="bold">1.16</text>
<text x="33" y="99" font-size="33" fill="#fff" text-anchor="start" font-weight="normal">44</text>
<text x="74" y="83" font-size="12" fill="#fff" text-anchor="start" font-weight="bold">9</text>
<text x="117" y="99" font-size="11.5" fill="#fff" text-anchor="start" font-weight="bold">1.16</text>
<text x="146" y="99" font-size="33" fill="#fff" text-anchor="start" font-weight="normal">57</text>
<text x="186" y="83" font-size="12" fill="#fff" text-anchor="start" font-weight="bold">3</text>
<g shape-rendering="crispEdges">
<rect x="0" y="640" width="1" height="15" fill="#c0c0c0"/>
<rect x="8" y="640" width="1" height="14" fill="#c0c0c0"/>
<rect x="16" y="640" width="1" height="15" fill="#c0c0c0"/>
<rect x="24" y="640" width="1" height="19" fill="#c0c0c0"/>
<rect x="32" y="640" width="1" height="19" fill="#c0c0c0"/>
<rect x="40" y="640" width="1" height="23" fill="#c0c0c0"/>
<rect x="48" y="640" width="1" height="29" fill="#c0c0c0"/>
<rect x="56" y="640" width="1" height="38" fill="#c0c0c0"/>
<rect x="64" y="640" width="1" height="35" fill="#c0c0c0"/>
<rect x="72" y="640" width="1" height="32" fill="#c0c0c0"/>
<rect x="80" y="640" width="1" height="30" fill="#c0c0c0"/>
<rect x="88" y="640" width="1" height="27" fill="#c0c0c0"/>
<rect x="96" y="640" width="1" height="22" fill="#c0c0c0"/>
<rect x="104" y="640" width="1" height="20" fill="#c0c0c0"/>
<rect x="112" y="640" width="1" height="17" fill="#c0c0c0"/>
<rect x="120" y="640" width="1" height="18" fill="#c0c0c0"/>
<rect x="128" y="640" width="1" height="18" fill="#c0c0c0"/>
<rect x="136" y="640" width="1" height="17" fill="#c0c0c0"/>
<rect x="144" y="640" width="1" height="15" fill="#c0c0c0"/>
<rect x="152" y="640" width="1" height="13" fill="#c0c0c0"/>
<rect x="160" y="640" width="1" height="11" fill="#c0c0c0"/>
<rect x="168" y="640" width="1" height="10" fill="#c0c0c0"/>
<rect x="176" y="640" width="1" height="8" fill="#c0c0c0"/>
<rect x="184" y="640" width="1" height="9" fill="#c0c0c0"/>
<rect x="192" y="640" width="1" height="5" fill="#c0c0c0"/>
<rect x="200" y="640" width="1" height="22" fill="#c0c0c0"/>
<rect x="208" y="640" width="1" height="30" fill="#c0c0c0"/>
<rect x="216" y="640" width="1" height="33" fill="#c0c0c0"/>
<rect x="224" y="640" width="1" height="38" fill="#c0c0c0"/>
<rect x="232" y="640" width="1" height="40" fill="#c0c0c0"/>
<rect x="240" y="640" width="1" height="40" fill="#c0c0c0"/>
<rect x="248" y="640" width="1" height="35" fill="#c0c0c0"/>
<rect x="256" y="640" width="1" height="45" fill="#c0c0c0"/>
<rect x="264" y="640" width="1" height="53" fill="#c0c0c0"/>
<rect x="272" y="640" width="1" height="58" fill="#c0c0c0"/>
<rect x="280" y="640" width="1" height="67" fill="#c0c0c0"/>
<rect x="288" y="640" width="1" height="71" fill="#c0c0c0"/>
<rect x="296" y="640" width="1" height="77" fill="#c0c0c0"/>
<rect x="304" y="640" width="1" height="73" fill="#c0c0c0"/>
<rect x="312" y="640" width="1" height="68" fill="#c0c0c0"/>
<rect x="320" y="640" width="1" height="67" fill="#c0c0c0"/>
<rect x="328" y="640" width="1" height="67" fill="#c0c0c0"/>
<rect x="336" y="640" width="1" height="62" fill="#c0c0c0"/>
<rect x="344" y="640" width="1" height="55" fill="#c0c0c0"/>
<rect x="352" y="640" width="1" height="53" fill="#c0c0c0"/>
<rect x="360" y="640" width="1" height="50" fill="#c0c0c0"/>
<rect x="368" y="640" width="1" height="52" fill="#c0c0c0"/>
<rect x="376" y="640" width="1" height="50" fill="#c0c0c0"/>
<rect x="384" y="640" width="1" height="44" fill="#c0c0c0"/>
<rect x="392" y="640" width="1" height="42" fill="#c0c0c0"/>
<rect x="400" y="640" width="1" height="38" fill="#c0c0c0"/>
<rect x="408" y="640" width="1" height="45" fill="#c0c0c0"/>
<rect x="416" y="640" width="1" height="45" fill="#c0c0c0"/>
<rect x="424" y="640" width="1" height="43" fill="#c0c0c0"/>
<rect x="432" y="640" width="1" height="42" fill="#c0c0c0"/>
<rect x="440" y="640" width="1" height="40" fill="#c0c0c0"/>
<rect x="448" y="640" width="1" height="35" fill="#c0c0c0"/>
<rect x="456" y="640" width="1" height="27" fill="#c0c0c0"/>
<rect x="464" y="640" width="1" height="22" fill="#c0c0c0"/>
<rect x="472" y="640" width="1" height="16" fill="#c0c0c0"/>
<rect x="480" y="640" width="1" height="14" fill="#c0c0c0"/>
<rect x="488" y="640" width="1" height="16" fill="#c0c0c0"/>
<rect x="496" y="640" width="1" height="17" fill="#c0c0c0"/>
<rect x="504" y="640" width="1" height="19" fill="#c0c0c0"/>
<rect x="512" y="640" width="1" height="17" fill="#c0c0c0"/>
<rect x="520" y="640" width="1" height="19" fill="#c0c0c0"/>
<rect x="528" y="640" width="1" height="20" fill="#c0c0c0"/>
<rect x="536" y="640" width="1" height="27" fill="#c0c0c0"/>
<rect x="544" y="640" width="1" height="28" fill="#c0c0c0"/>
<rect x="552" y="640" width="1" height="29" fill="#c0c0c0"/>
<rect x="560" y="640" width="1" height="29" fill="#c0c0c0"/>
<rect x="568" y="640" width="1" height="32" fill="#c0c0c0"/>
<rect x="576" y="640" width="1" height="33" fill="#c0c0c0"/>
<rect x="584" y="640" width="1" height="35" fill="#c0c0c0"/>
<rect x="592" y="640" width="1" height="37" fill="#c0c0c0"/>
<rect x="600" y="640" width="1" height="37" fill="#c0c0c0"/>
<rect x="608" y="640" width="1" height="37" fill="#c0c0c0"/>
<rect x="616" y="640" width="1" height="37" fill="#c0c0c0"/>
<rect x="624" y="640" width="1" height="40" fill="#c0c0c0"/>
<rect x="632" y="640" width="1" height="47" fill="#c0c0c0"/>
<rect x="640" y="640" width="1" height="60" fill="#c0c0c0"/>
<rect x="648" y="640" width="1" height="73" fill="#c0c0c0"/>
<rect x="656" y="640" width="1" height="81" fill="#c0c0c0"/>
<rect x="664" y="640" width="1" height="87" fill="#c0c0c0"/>
<rect x="672" y="640" width="1" height="88" fill="#c0c0c0"/>
<rect x="680" y="640" width="1" height="96" fill="#c0c0c0"/>
<rect x="688" y="640" width="1" height="101" fill="#c0c0c0"/>
<rect x="696" y="640" width="1" height="103" fill="#c0c0c0"/>
<rect x="704" y="640" width="1" height="105" fill="#c0c0c0"/>
<rect x="712" y="640" width="1" height="105" fill="#c0c0c0"/>
<rect x="720" y="640" width="1" height="102" fill="#c0c0c0"/>
<rect x="728" y="640" width="1" height="96" fill="#c0c0c0"/>
<rect x="736" y="640" width="1" height="88" fill="#c0c0c0"/>
<rect x="744" y="640" width="1" height="82" fill="#c0c0c0"/>
<rect x="752" y="640" width="1" height="75" fill="#c0c0c0"/>
<rect x="760" y="640" width="1" height="71" fill="#c0c0c0"/>
<rect x="768" y="640" width="1" height="64" fill="#c0c0c0"/>
<rect x="776" y="640" width="1" height="52" fill="#c0c0c0"/>
<rect x="784" y="640" width="1" height="43" fill="#c0c0c0"/>
<rect x="792" y="640" width="1" height="38" fill="#c0c0c0"/>
<rect x="800" y="640" width="1" height="33" fill="#c0c0c0"/>
<rect x="808" y="640" width="1" height="33" fill="#c0c0c0"/>
<rect x="816" y="640" width="1" height="33" fill="#c0c0c0"/>
<rect x="824" y="640" width="1" height="33" fill="#c0c0c0"/>
<rect x="832" y="640" width="1" height="31" fill="#c0c0c0"/>
<rect x="840" y="640" width="1" height="31" fill="#c0c0c0"/>
<rect x="848" y="640" width="1" height="30" fill="#c0c0c0"/>
<rect x="856" y="640" width="1" height="35" fill="#c0c0c0"/>
<rect x="864" y="640" width="1" height="38" fill="#c0c0c0"/>
<rect x="872" y="640" width="1" height="48" fill="#c0c0c0"/>
<rect x="880" y="640" width="1" height="56" fill="#c0c0c0"/>
<rect x="888" y="640" width="1" height="56" fill="#c0c0c0"/>
<rect x="896" y="640" width="1" height="57" fill="#c0c0c0"/>
<rect x="904" y="640" width="1" height="57" fill="#c0c0c0"/>
<rect x="912" y="640" width="1" height="52" fill="#c0c0c0"/>
<rect x="920" y="640" width="1" height="50" fill="#c0c0c0"/>
<rect x="928" y="640" width="1" height="48" fill="#c0c0c0"/>
<rect x="936" y="640" width="1" height="48" fill="#c0c0c0"/>
<rect x="944" y="640" width="1" height="47" fill="#c0c0c0"/>
<rect x="952" y="640" width="1" height="46" fill="#c0c0c0"/>
<rect x="960" y="640" width="1" height="47" fill="#c0c0c0"/>
<rect x="968" y="640" width="1" height="43" fill="#c0c0c0"/>
<rect x="976" y="640" width="1" height="37" fill="#c0c0c0"/>
<rect x="984" y="640" width="1" height="30" fill="#c0c0c0"/>
<rect x="992" y="640" width="1" height="28" fill="#c0c0c0"/>
<rect x="1000" y="640" width="1" height="25" fill="#c0c0c0"/>
<rect x="1008" y="640" width="1" height="20" fill="#c0c0c0"/>
<rect x="1016" y="640" width="1" height="19" fill="#c0c0c0"/>
<rect x="1024" y="640" width="1" height="17" fill="#c0c0c0"/>
<rect x="1032" y="640" width="1" height="20" fill="#c0c0c0"/>
<rect x="1040" y="640" width="1" height="20" fill="#c0c0c0"/>
<rect x="1048" y="640" width="1" height="19" fill="#c0c0c0"/>
<rect x="1056" y="640" width="1" height="19" fill="#c0c0c0"/>
<rect x="1064" y="640" width="1" height="19" fill="#c0c0c0"/>
<rect x="1072" y="640" width="1" height="20" fill="#c0c0c0"/>
<rect x="1080" y="640" width="1" height="27" fill="#c0c0c0"/>
<rect x="1088" y="640" width="1" height="32" fill="#c0c0c0"/>
<rect x="1096" y="640" width="1" height="27" fill="#c0c0c0"/>
<rect x="1104" y="640" width="1" height="27" fill="#c0c0c0"/>
<rect x="1112" y="640" width="1" height="22" fill="#c0c0c0"/>
<rect x="1120" y="640" width="1" height="17" fill="#c0c0c0"/>
<rect x="1128" y="640" width="1" height="5" fill="#c0c0c0"/>
<rect x="1136" y="638" width="1" height="3" fill="#c0c0c0"/>
<rect x="1144" y="631" width="1" height="10" fill="#c0c0c0"/>
<rect x="1152" y="624" width="1" height="17" fill="#c0c0c0"/>
<rect x="1160" y="618" width="1" height="23" fill="#c0c0c0"/>
<rect x="1168" y="618" width="1" height="23" fill="#c0c0c0"/>
<rect x="1176" y="617" width="1" height="24" fill="#c0c0c0"/>
<rect x="1184" y="616" width="1" height="25" fill="#c0c0c0"/>
<rect x="1192" y="613" width="1" height="28" fill="#c0c0c0"/>
<rect x="1200" y="610" width="1" height="31" fill="#c0c0c0"/>
<rect x="1208" y="609" width="1" height="32" fill="#c0c0c0"/>
<rect x="1216" y="612" width="1" height="29" fill="#c0c0c0"/>
<rect x="1224" y="612" width="1" height="29" fill="#c0c0c0"/>
<rect x="1232" y="612" width="1" height="29" fill="#c0c0c0"/>
<rect x="1240" y="619" width="1" height="22" fill="#c0c0c0"/>
<rect x="1248" y="621" width="1" height="20" fill="#c0c0c0"/>
<rect x="1256" y="621" width="1" height="20" fill="#c0c0c0"/>
<rect x="1264" y="619" width="1" height="22" fill="#c0c0c0"/>
<rect x="1272" y="617" width="1" height="24" fill="#c0c0c0"/>
<rect x="1280" y="615" width="1" height="26" fill="#c0c0c0"/>
<rect x="1288" y="607" width="1" height="34" fill="#c0c0c0"/>
<rect x="1296" y="599" width="1" height="42" fill="#c0c0c0"/>
<rect x="1304" y="592" width="1" height="49" fill="#c0c0c0"/>
<rect x="1312" y="593" width="1" height="48" fill="#c0c0c0"/>
<rect x="1320" y="593" width="1" height="48" fill="#c0c0c0"/>
<rect x="1328" y="595" width="1" height="46" fill="#c0c0c0"/>
<rect x="1336" y="595" width="1" height="46" fill="#c0c0c0"/>
<rect x="1344" y="598" width="1" height="43" fill="#c0c0c0"/>
<rect x="1352" y="602" width="1" height="39" fill="#c0c0c0"/>
<rect x="1360" y="601" width="1" height="40" fill="#c0c0c0"/>
<rect x="1368" y="602" width="1" height="39" fill="#c0c0c0"/>
<rect x="1376" y="601" width="1" height="40" fill="#c0c0c0"/>
</g>
<polyline points="0.5,660.7 27.0,657.4 40.3,658.0 56.8,662.0 73.4,664.0 90.0,668.0 113.2,668.6 133.0,664.0 159.5,658.0 179.5,654.7 199.3,654.0 219.2,656.7 239.1,665.3 259.0,674.6 278.8,685.2 298.7,696.1 318.5,704.4 341.8,707.7 365.0,702.8 384.9,695.1 404.7,687.2 431.2,685.2 457.7,678.5 477.5,674.6 497.5,665.3 517.5,658.7 530.5,657.4 543.9,658.7 560.5,662.5 573.8,664.6 587.0,668.6 600.3,671.9 623.5,675.3 636.7,679.5 653.3,687.8 673.2,702.8 693.0,717.7 712.9,732.5 732.8,737.5 746.1,736.9 765.9,728.3 785.8,712.7 805.7,696.1 825.5,684.5 845.5,674.6 862.0,672.9 878.5,676.2 898.5,682.9 918.4,689.5 938.2,692.8 958.1,690.5 978.0,686.2 997.9,680.5 1024.4,669.6 1044.3,663.0 1064.1,659.7 1077.4,660.7 1097.3,664.6 1120.5,663.3 1140.5,657.8 1161.0,646.0 1181.2,629.1 1201.5,618.3 1218.3,613.2 1238.5,612.9 1262.2,613.9 1282.5,617.3 1299.3,613.9 1316.1,608.2 1329.5,602.8 1349.8,598.1 1376.8,597.0" fill="none" stroke="#ff0000" stroke-width="1" stroke-dasharray="3,3" stroke-dashoffset="4" shape-rendering="crispEdges"/>
<text x="0" y="595" font-size="9.15" fill="#000" text-anchor="start" font-weight="normal">ACD(12,26,9) 0.001382 0.001453</text>
<g shape-rendering="crispEdges">
<rect x="1644" y="589" width="2" height="1" fill="#000"/>
<rect x="1644" y="640" width="2" height="1" fill="#000"/>
<rect x="1644" y="745" width="2" height="1" fill="#000"/>
</g>
<text x="1647" y="593" font-size="9.5" fill="#000" text-anchor="start" font-weight="normal">0.001921</text>
<text x="1647" y="644" font-size="9.5" fill="#000" text-anchor="start" font-weight="normal">0.00</text>
<text x="1646" y="749" font-size="9.5" fill="#000" text-anchor="start" font-weight="normal">-0.003814</text>
<g shape-rendering="crispEdges">
<line x1="0" y1="790.5" x2="1643" y2="790.5" stroke="#c0c0c0" stroke-width="1" stroke-dasharray="3,3" stroke-dashoffset="3"/>
<line x1="0" y1="841.5" x2="1643" y2="841.5" stroke="#c0c0c0" stroke-width="1" stroke-dasharray="3,3" stroke-dashoffset="3"/>
<line x1="0" y1="902.5" x2="1643" y2="902.5" stroke="#c0c0c0" stroke-width="1" stroke-dasharray="3,3" stroke-dashoffset="3"/>
<rect x="1644" y="758" width="2" height="1" fill="#000"/>
<rect x="1644" y="790" width="2" height="1" fill="#000"/>
<rect x="1644" y="841" width="2" height="1" fill="#000"/>
<rect x="1644" y="902" width="2" height="1" fill="#000"/>
<rect x="1644" y="926" width="2" height="1" fill="#000"/>
</g>
<polyline points="0.5,836.3 8.5,842.9 16.5,854.5 24.5,859.5 32.5,861.8 40.5,866.1 48.5,877.7 56.5,882.7 64.5,851.9 72.5,851.9 80.5,850.5 88.5,846.2 96.5,838.6 104.5,849.5 112.5,839.6 120.5,851.9 128.5,852.9 136.5,849.5 144.5,842.9 152.5,838.6 160.5,845.6 168.5,841.9 176.5,840.6 184.5,845.3 192.5,864.5 200.5,869.4 208.5,872.8 216.5,867.8 224.5,870.1 232.5,866.1 240.5,861.8 248.5,848.6 256.5,874.4 264.5,876.1 272.5,876.1 280.5,881.7 288.5,881.7 296.5,883.7 304.5,865.1 312.5,863.8 320.5,864.5 328.5,861.2 336.5,863.8 344.5,849.5 352.5,860.5 360.5,856.2 368.5,859.5 376.5,861.8 384.5,854.5 392.5,856.2 400.5,847.2 408.5,868.5 416.5,871.8 424.5,857.8 432.5,852.9 440.5,852.9 448.5,840.6 456.5,836.3 464.5,837.3 472.5,837.3 480.5,839.6 488.5,854.5 496.5,853.9 504.5,852.9 512.5,847.9 520.5,847.9 528.5,863.8 536.5,866.1 544.5,857.8 552.5,858.5 560.5,860.5 568.5,862.8 576.5,866.1 584.5,864.5 592.5,869.4 600.5,865.1 608.5,863.8 616.5,865.1 624.5,878.4 632.5,883.7 640.5,895.9 648.5,899.3 656.5,892.6 664.5,889.3 672.5,888.3 680.5,896.6 688.5,894.3 696.5,888.3 704.5,891.6 712.5,889.3 720.5,887.0 728.5,867.1 736.5,867.1 744.5,867.1 752.5,858.5 760.5,867.1 768.5,851.9 776.5,835.3 784.5,843.9 792.5,843.9 800.5,846.2 808.5,856.2 816.5,857.2 824.5,856.2 832.5,848.6 840.5,855.2 848.5,856.2 856.5,857.8 864.5,875.1 872.5,881.7 880.5,876.1 888.5,865.1 896.5,866.1 904.5,866.1 912.5,855.2 920.5,858.5 928.5,860.5 936.5,863.8 944.5,859.5 952.5,862.8 960.5,865.1 968.5,852.9 976.5,844.6 984.5,841.9 992.5,849.5 1000.5,845.3 1008.5,843.9 1016.5,847.2 1024.5,843.9 1032.5,858.5 1040.5,856.2 1048.5,851.2 1056.5,853.9 1064.5,853.9 1072.5,864.5 1080.5,868.5 1088.5,869.4 1096.5,849.5 1104.5,849.5 1112.5,838.6 1120.5,836.9 1128.5,820.0 1136.5,818.7 1144.5,822.0 1152.5,813.3 1160.5,817.6 1168.5,829.5 1176.5,825.4 1184.5,831.1 1192.5,822.0 1200.5,818.7 1208.5,826.1 1216.5,834.5 1224.5,827.8 1232.5,834.5 1240.5,844.6 1248.5,837.9 1256.5,834.5 1264.5,827.8 1272.5,826.1 1280.5,825.4 1288.5,808.5 1296.5,806.5 1304.5,805.8 1312.5,825.4 1320.5,824.4 1328.5,827.8 1336.5,821.0 1344.5,834.5 1352.5,836.9 1360.5,827.8 1368.5,824.4 1376.5,824.4" fill="none" stroke="#1e90ff" stroke-width="1" shape-rendering="crispEdges"/>
<text x="0" y="767" font-size="9.5" fill="#000" text-anchor="start" font-weight="normal">I(14) 59.4872</text>
<text x="1647" y="765" font-size="9.5" fill="#000" text-anchor="start" font-weight="normal">100</text>
<text x="1647" y="794" font-size="9.5" fill="#000" text-anchor="start" font-weight="normal">80</text>
<text x="1647" y="845" font-size="9.5" fill="#000" text-anchor="start" font-weight="normal">50</text>
<text x="1647" y="906" font-size="9.5" fill="#000" text-anchor="start" font-weight="normal">15</text>
<text x="1647" y="925" font-size="9.5" fill="#000" text-anchor="start" font-weight="normal">0</text>
<line x1="1297" y1="602" x2="1377.2" y2="599.3" stroke="#ff0000" stroke-width="3.5"/>
<polygon points="1385,599 1372.2,604.4 1377.2,599.3 1371.8,594.4" fill="#ff0000"/>
<line x1="1278" y1="820" x2="1367.2" y2="823.7" stroke="#ff0000" stroke-width="3.5"/>
<polygon points="1375,824 1361.8,828.5 1367.2,823.7 1362.2,818.5" fill="#ff0000"/>
<g shape-rendering="crispEdges">
<rect x="48" y="929" width="1" height="3" fill="#000"/>
<rect x="112" y="929" width="1" height="3" fill="#000"/>
<rect x="176" y="929" width="1" height="3" fill="#000"/>
<rect x="240" y="929" width="1" height="3" fill="#000"/>
<rect x="304" y="929" width="1" height="3" fill="#000"/>
<rect x="368" y="929" width="1" height="3" fill="#000"/>
<rect x="432" y="929" width="1" height="3" fill="#000"/>
<rect x="496" y="929" width="1" height="3" fill="#000"/>
<rect x="560" y="929" width="1" height="3" fill="#000"/>
<rect x="624" y="929" width="1" height="3" fill="#000"/>
<rect x="688" y="929" width="1" height="3" fill="#000"/>
<rect x="752" y="929" width="1" height="3" fill="#000"/>
<rect x="816" y="929" width="1" height="3" fill="#000"/>
<rect x="880" y="929" width="1" height="3" fill="#000"/>
<rect x="944" y="929" width="1" height="3" fill="#000"/>
<rect x="1008" y="929" width="1" height="3" fill="#000"/>
<rect x="1072" y="929" width="1" height="3" fill="#000"/>
<rect x="1136" y="929" width="1" height="3" fill="#000"/>
<rect x="1200" y="929" width="1" height="3" fill="#000"/>
<rect x="1264" y="929" width="1" height="3" fill="#000"/>
<rect x="1328" y="929" width="1" height="3" fill="#000"/>
</g>
<text x="30" y="941" font-size="9.2" fill="#000" text-anchor="end" font-weight="normal">ep 2021</text>
<text x="48" y="941" font-size="9.2" fill="#000" text-anchor="start" font-weight="normal">13 Sep 04:00</text>
<text x="112" y="941" font-size="9.2" fill="#000" text-anchor="start" font-weight="normal">14 Sep 12:00</text>
<text x="176" y="941" font-size="9.2" fill="#000" text-anchor="start" font-weight="normal">15 Sep 20:00</text>
<text x="240" y="941" font-size="9.2" fill="#000" text-anchor="start" font-weight="normal">17 Sep 04:00</text>
<text x="304" y="941" font-size="9.2" fill="#000" text-anchor="start" font-weight="normal">20 Sep 12:00</text>
<text x="368" y="941" font-size="9.2" fill="#000" text-anchor="start" font-weight="normal">21 Sep 20:00</text>
<text x="432" y="941" font-size="9.2" fill="#000" text-anchor="start" font-weight="normal">23 Sep 04:00</text>
<text x="496" y="941" font-size="9.2" fill="#000" text-anchor="start" font-weight="normal">24 Sep 12:00</text>
<text x="560" y="941" font-size="9.2" fill="#000" text-anchor="start" font-weight="normal">27 Sep 20:00</text>
<text x="624" y="941" font-size="9.2" fill="#000" text-anchor="start" font-weight="normal">29 Sep 04:00</text>
<text x="688" y="941" font-size="9.2" fill="#000" text-anchor="start" font-weight="normal">30 Sep 12:00</text>
<text x="752" y="941" font-size="9.2" fill="#000" text-anchor="start" font-weight="normal">3 Oct 23:00</text>
<text x="816" y="941" font-size="9.2" fill="#000" text-anchor="start" font-weight="normal">5 Oct 04:00</text>
<text x="880" y="941" font-size="9.2" fill="#000" text-anchor="start" font-weight="normal">6 Oct 12:00</text>
<text x="944" y="941" font-size="9.2" fill="#000" text-anchor="start" font-weight="normal">7 Oct 20:00</text>
<text x="1008" y="941" font-size="9.2" fill="#000" text-anchor="start" font-weight="normal">11 Oct 04:00</text>
<text x="1072" y="941" font-size="9.2" fill="#000" text-anchor="start" font-weight="normal">12 Oct 12:00</text>
<text x="1136" y="941" font-size="9.2" fill="#000" text-anchor="start" font-weight="normal">13 Oct 20:00</text>
<text x="1200" y="941" font-size="9.2" fill="#000" text-anchor="start" font-weight="normal">15 Oct 04:00</text>
<text x="1264" y="941" font-size="9.2" fill="#000" text-anchor="start" font-weight="normal">18 Oct 12:00</text>
<text x="1328" y="941" font-size="9.2" fill="#000" text-anchor="start" font-weight="normal">19 Oct 20:00</text>
<g>
<rect x="4" y="1" width="1" height="20" fill="#a0a0a0"/>
<path d="M0,5 L2,6.5 L0,8" fill="none" stroke="#333" stroke-width="1"/>
<path d="M14.5,3.5 h8 l3,3 v10 h-11 z" fill="#fff" stroke="#777"/>
<path d="M16,6.5 h3 M16,9 h7 M16,11.5 h7" stroke="#999" stroke-width="1"/>
<path d="M22,9 h4 v4 h4 v4 h-4 v4 h-4 v-4 h-4 v-4 h4 z" fill="#3ad83a" stroke="#139a13" stroke-width="0.9"/>
<g shape-rendering="crispEdges" fill="#000"><rect x="36" y="4" width="1" height="1"/><rect x="42" y="4" width="2" height="1"/><rect x="60" y="4" width="1" height="1"/><rect x="65" y="4" width="1" height="1"/><rect x="34" y="5" width="8" height="1"/><rect x="47" y="5" width="1" height="1"/><rect x="50" y="5" width="7" height="1"/><rect x="61" y="5" width="1" height="1"/><rect x="65" y="5" width="1" height="1"/><rect x="35" y="6" width="1" height="1"/><rect x="37" y="6" width="1" height="1"/><rect x="40" y="6" width="1" height="1"/><rect x="53" y="6" width="1" height="1"/><rect x="59" y="6" width="8" height="1"/><rect x="35" y="7" width="1" height="1"/><rect x="37" y="7" width="1" height="1"/><rect x="40" y="7" width="1" height="1"/><rect x="53" y="7" width="1" height="1"/><rect x="59" y="7" width="1" height="1"/><rect x="62" y="7" width="2" height="1"/><rect x="66" y="7" width="1" height="1"/><rect x="34" y="8" width="10" height="1"/><rect x="46" y="8" width="3" height="1"/><rect x="53" y="8" width="1" height="1"/><rect x="59" y="8" width="8" height="1"/><rect x="36" y="9" width="1" height="1"/><rect x="40" y="9" width="1" height="1"/><rect x="42" y="9" width="1" height="1"/><rect x="48" y="9" width="1" height="1"/><rect x="53" y="9" width="1" height="1"/><rect x="59" y="9" width="1" height="1"/><rect x="62" y="9" width="2" height="1"/><rect x="66" y="9" width="1" height="1"/><rect x="34" y="10" width="6" height="1"/><rect x="42" y="10" width="1" height="1"/><rect x="48" y="10" width="1" height="1"/><rect x="53" y="10" width="1" height="1"/><rect x="59" y="10" width="8" height="1"/><rect x="34" y="11" width="1" height="1"/><rect x="36" y="11" width="2" height="1"/><rect x="39" y="11" width="1" height="1"/><rect x="42" y="11" width="1" height="1"/><rect x="48" y="11" width="1" height="1"/><rect x="53" y="11" width="1" height="1"/><rect x="62" y="11" width="2" height="1"/><rect x="34" y="12" width="1" height="1"/><rect x="36" y="12" width="1" height="1"/><rect x="38" y="12" width="2" height="1"/><rect x="42" y="12" width="1" height="1"/><rect x="48" y="12" width="2" height="1"/><rect x="53" y="12" width="1" height="1"/><rect x="58" y="12" width="10" height="1"/><rect x="36" y="13" width="1" height="1"/><rect x="39" y="13" width="1" height="1"/><rect x="42" y="13" width="1" height="1"/><rect x="47" y="13" width="2" height="1"/><rect x="53" y="13" width="1" height="1"/><rect x="62" y="13" width="2" height="1"/><rect x="35" y="14" width="2" height="1"/><rect x="42" y="14" width="1" height="1"/><rect x="47" y="14" width="1" height="1"/><rect x="51" y="14" width="3" height="1"/><rect x="62" y="14" width="1" height="1"/></g>
<defs><linearGradient id="gbook" x1="0" y1="0" x2="1" y2="1"><stop offset="0" stop-color="#fff0a0"/><stop offset="0.5" stop-color="#e8b818"/><stop offset="1" stop-color="#c89010"/></linearGradient><linearGradient id="gcloud" x1="0" y1="0" x2="0" y2="1"><stop offset="0" stop-color="#ffffff"/><stop offset="1" stop-color="#b0bcd4"/></linearGradient></defs>
<path d="M81.3,12.7 L85.3,8.6 L86.8,4.3 L96.5,12.3 L89.2,18.6 Z" fill="url(#gbook)" stroke="#9a6010" stroke-width="1"/>
<path d="M82.5,13.2 L89,17.3 L95.5,12.6" fill="none" stroke="#f4e4b0" stroke-width="1"/>
<path d="M111.5,3.5 h10.5 v8 h-10.5 z" fill="#1a9af0" stroke="#0a78d8"/>
<path d="M112.5,4 l2.5,2.5 v5 M115,8.5 h6" stroke="#d8f0ff" stroke-width="1" fill="none"/>
<path d="M110.5,18.5 a2.3,2.3 0 0 1 0.5,-4.6 a3,2.5 0 0 1 4.5,-1.4 a3.2,2.8 0 0 1 5.2,0.6 a2.6,2.6 0 0 1 3.5,3.6 a1.8,1.8 0 0 1 -1.2,1.8 z" fill="url(#gcloud)" stroke="#4a6090" stroke-width="1"/>
<circle cx="145" cy="11" r="7" fill="none" stroke="#a0b8e0" stroke-width="1"/>
<circle cx="145" cy="11" r="4.5" fill="none" stroke="#7090d0" stroke-width="1"/>
<circle cx="145" cy="11" r="1.5" fill="#3060c0"/>
<path d="M145,11 v7 a7,7 0 0 0 6,-4" fill="none" stroke="#30a030" stroke-width="1.2"/>
<ellipse cx="172" cy="7" rx="7" ry="3" fill="#5aa8e0" stroke="#3078b0"/>
<path d="M165,12 L179,12 L172,19 Z" fill="#f0d040" stroke="#b09020" stroke-width="0.8"/>
<circle cx="176" cy="14.5" r="4" fill="#d02010"/>
<rect x="174.5" y="13" width="3" height="3" fill="#fff"/>
<g shape-rendering="crispEdges" fill="#000"><rect x="189" y="4" width="1" height="1"/><rect x="204" y="4" width="1" height="1"/><rect x="213" y="4" width="1" height="1"/><rect x="222" y="4" width="8" height="1"/><rect x="186" y="5" width="8" height="1"/><rect x="197" y="5" width="5" height="1"/><rect x="204" y="5" width="1" height="1"/><rect x="209" y="5" width="10" height="1"/><rect x="222" y="5" width="1" height="1"/><rect x="229" y="5" width="1" height="1"/><rect x="186" y="6" width="1" height="1"/><rect x="193" y="6" width="1" height="1"/><rect x="203" y="6" width="2" height="1"/><rect x="209" y="6" width="10" height="1"/><rect x="222" y="6" width="8" height="1"/><rect x="186" y="7" width="1" height="1"/><rect x="193" y="7" width="1" height="1"/><rect x="202" y="7" width="5" height="1"/><rect x="211" y="7" width="1" height="1"/><rect x="216" y="7" width="1" height="1"/><rect x="222" y="7" width="1" height="1"/><rect x="229" y="7" width="1" height="1"/><rect x="186" y="8" width="8" height="1"/><rect x="197" y="8" width="5" height="1"/><rect x="204" y="8" width="1" height="1"/><rect x="206" y="8" width="1" height="1"/><rect x="210" y="8" width="1" height="1"/><rect x="217" y="8" width="1" height="1"/><rect x="222" y="8" width="8" height="1"/><rect x="186" y="9" width="1" height="1"/><rect x="193" y="9" width="1" height="1"/><rect x="198" y="9" width="1" height="1"/><rect x="203" y="9" width="2" height="1"/><rect x="206" y="9" width="1" height="1"/><rect x="209" y="9" width="1" height="1"/><rect x="212" y="9" width="1" height="1"/><rect x="215" y="9" width="2" height="1"/><rect x="218" y="9" width="1" height="1"/><rect x="223" y="9" width="1" height="1"/><rect x="186" y="10" width="1" height="1"/><rect x="193" y="10" width="1" height="1"/><rect x="198" y="10" width="1" height="1"/><rect x="200" y="10" width="1" height="1"/><rect x="203" y="10" width="1" height="1"/><rect x="206" y="10" width="1" height="1"/><rect x="212" y="10" width="1" height="1"/><rect x="215" y="10" width="1" height="1"/><rect x="222" y="10" width="9" height="1"/><rect x="186" y="11" width="8" height="1"/><rect x="197" y="11" width="1" height="1"/><rect x="201" y="11" width="1" height="1"/><rect x="203" y="11" width="1" height="1"/><rect x="206" y="11" width="1" height="1"/><rect x="213" y="11" width="2" height="1"/><rect x="221" y="11" width="2" height="1"/><rect x="224" y="11" width="1" height="1"/><rect x="227" y="11" width="1" height="1"/><rect x="230" y="11" width="1" height="1"/><rect x="186" y="12" width="1" height="1"/><rect x="193" y="12" width="1" height="1"/><rect x="197" y="12" width="5" height="1"/><rect x="203" y="12" width="1" height="1"/><rect x="206" y="12" width="1" height="1"/><rect x="213" y="12" width="2" height="1"/><rect x="223" y="12" width="2" height="1"/><rect x="227" y="12" width="1" height="1"/><rect x="230" y="12" width="1" height="1"/><rect x="186" y="13" width="8" height="1"/><rect x="202" y="13" width="1" height="1"/><rect x="206" y="13" width="1" height="1"/><rect x="211" y="13" width="2" height="1"/><rect x="215" y="13" width="3" height="1"/><rect x="222" y="13" width="2" height="1"/><rect x="226" y="13" width="1" height="1"/><rect x="229" y="13" width="1" height="1"/><rect x="186" y="14" width="1" height="1"/><rect x="193" y="14" width="1" height="1"/><rect x="202" y="14" width="1" height="1"/><rect x="204" y="14" width="2" height="1"/><rect x="209" y="14" width="2" height="1"/><rect x="217" y="14" width="2" height="1"/><rect x="222" y="14" width="1" height="1"/><rect x="225" y="14" width="1" height="1"/><rect x="228" y="14" width="2" height="1"/></g>
<rect x="244" y="2" width="3" height="1" fill="#b8b8b8"/>
<rect x="244" y="4" width="3" height="1" fill="#b8b8b8"/>
<rect x="244" y="6" width="3" height="1" fill="#b8b8b8"/>
<rect x="244" y="8" width="3" height="1" fill="#b8b8b8"/>
<rect x="244" y="10" width="3" height="1" fill="#b8b8b8"/>
<rect x="244" y="12" width="3" height="1" fill="#b8b8b8"/>
<rect x="244" y="14" width="3" height="1" fill="#b8b8b8"/>
<rect x="244" y="16" width="3" height="1" fill="#b8b8b8"/>
<rect x="244" y="18" width="3" height="1" fill="#b8b8b8"/>
<rect x="240" y="1" width="1" height="20" fill="#a0a0a0"/>
<path d="M258.5,5 v14 M256,16.5 h14" stroke="#555" stroke-width="1" shape-rendering="crispEdges"/>
<path d="M257,7 l1.5,-2 l1.5,2 M268,15 l2,1.5 l-2,1.5" fill="none" stroke="#555"/>
<path d="M264.5,6 v8 M262,13.5 h2.5 M264.5,7.5 h2.5" stroke="#1a9a1a" stroke-width="1.3"/>
<rect x="279" y="1" width="24" height="20" fill="#f4f4f4"/>
<path d="M286.5,5 v14 M284,16.5 h14" stroke="#555" stroke-width="1" shape-rendering="crispEdges"/>
<path d="M285,7 l1.5,-2 l1.5,2 M296,15 l2,1.5 l-2,1.5" fill="none" stroke="#555"/>
<rect x="290" y="4" width="4" height="9" fill="#22bb33"/>
<rect x="291.5" y="3" width="1" height="12" fill="#118822"/>
<path d="M314.5,5 v14 M312,16.5 h14" stroke="#555" stroke-width="1" shape-rendering="crispEdges"/>
<path d="M313,7 l1.5,-2 l1.5,2 M324,15 l2,1.5 l-2,1.5" fill="none" stroke="#555"/>
<path d="M313,14 q5,-8 9,-5 q2,2 4,3" fill="none" stroke="#229933" stroke-width="1.2"/>
<rect x="335" y="1" width="1" height="20" fill="#a0a0a0"/>
<circle cx="350" cy="9" r="5" fill="#d8ecfa" stroke="#3070c0" stroke-width="1.4"/>
<path d="M347,9 h6 M350,6 v6" stroke="#3a80c8" stroke-width="1.6"/>
<path d="M354,13 l4,4" stroke="#c8a830" stroke-width="2.5"/>
<circle cx="378" cy="9" r="5" fill="#d8ecfa" stroke="#3070c0" stroke-width="1.4"/>
<path d="M375,9 h6" stroke="#3a80c8" stroke-width="1.6"/>
<path d="M382,13 l4,4" stroke="#c8a830" stroke-width="2.5"/>
<rect x="400" y="3" width="7" height="8" fill="#30a020"/>
<rect x="408" y="3" width="7" height="8" fill="#2060d0"/>
<rect x="400" y="11" width="7" height="8" fill="#2060d0"/>
<rect x="408" y="11" width="7" height="8" fill="#30a020"/>
<rect x="401" y="6" width="5" height="3" fill="#fff"/>
<rect x="409" y="6" width="5" height="3" fill="#fff"/>
<rect x="401" y="14" width="5" height="3" fill="#fff"/>
<rect x="409" y="14" width="5" height="3" fill="#fff"/>
<rect x="425" y="1" width="1" height="20" fill="#a0a0a0"/>
<rect x="430" y="1" width="1" height="20" fill="#a0a0a0"/>
<rect x="431" y="1" width="24" height="20" fill="#f4f4f4"/>
<path d="M438.5,5 v14 M436,16.5 h14" stroke="#555" stroke-width="1" shape-rendering="crispEdges"/>
<path d="M437,7 l1.5,-2 l1.5,2 M448,15 l2,1.5 l-2,1.5" fill="none" stroke="#555"/>
<path d="M443,7 l4,3.5 l-4,3.5 z" fill="#22aa22"/>
<rect x="458" y="1" width="1" height="20" fill="#a0a0a0"/>
<rect x="459" y="1" width="24" height="20" fill="#f4f4f4"/>
<path d="M465.5,5 v14 M463,16.5 h14" stroke="#555" stroke-width="1" shape-rendering="crispEdges"/>
<path d="M464,7 l1.5,-2 l1.5,2 M475,15 l2,1.5 l-2,1.5" fill="none" stroke="#555"/>
<rect x="472" y="5" width="1" height="10" fill="#1a60a0"/>
<path d="M478,10.5 h-4 M475,8.5 l-2,2 l2,2" stroke="#e05010" stroke-width="1.2" fill="none"/>
<rect x="483" y="1" width="2" height="20" fill="#e8e8e8"/>
<rect x="487" y="1" width="1" height="20" fill="#a0a0a0"/>
<path d="M497.5,3.5 h7 l3,3 v10 h-10 z" fill="#fff" stroke="#777"/>
<path d="M501,5 q-2,0 -1.5,5 q0,4 -1,5" stroke="#444" fill="none"/>
<path d="M505,9 h4 v4 h4 v4 h-4 v4 h-4 v-4 h-4 v-4 h4 z" fill="#3ad83a" stroke="#139a13" stroke-width="0.9"/>
<polygon points="519,10 524,10 521.5,13" fill="#000"/>
<circle cx="543" cy="11" r="7" fill="#f4f8ff" stroke="#1a6ad0" stroke-width="2.2"/>
<path d="M543,7 v4 h3" stroke="#222" stroke-width="1" fill="none"/>
<polygon points="558,10 563,10 560.5,13" fill="#000"/>
<rect x="574.5" y="4.5" width="15" height="13" fill="#fff" stroke="#3a70c0"/>
<rect x="575" y="5" width="14" height="2" fill="#8ab0e0"/>
<path d="M576,10 l3,-1 l3,1 l3,-1 l3,0" stroke="#b02010" fill="none"/>
<path d="M576,15 l3,-1 l3,1 l3,-2 l3,2" stroke="#20a020" fill="none"/>
<polygon points="597,10 602,10 599.5,13" fill="#000"/>
<rect x="608" y="1" width="1" height="20" fill="#a0a0a0"/>
<rect x="612" y="2" width="3" height="1" fill="#b8b8b8"/>
<rect x="612" y="4" width="3" height="1" fill="#b8b8b8"/>
<rect x="612" y="6" width="3" height="1" fill="#b8b8b8"/>
<rect x="612" y="8" width="3" height="1" fill="#b8b8b8"/>
<rect x="612" y="10" width="3" height="1" fill="#b8b8b8"/>
<rect x="612" y="12" width="3" height="1" fill="#b8b8b8"/>
<rect x="612" y="14" width="3" height="1" fill="#b8b8b8"/>
<rect x="612" y="16" width="3" height="1" fill="#b8b8b8"/>
<rect x="612" y="18" width="3" height="1" fill="#b8b8b8"/>
<rect x="618" y="1" width="1" height="20" fill="#a0a0a0"/>
<rect x="619" y="1" width="24" height="20" fill="#f4f4f4"/>
<path d="M626,4 L634,11.5 L630.5,11.5 L632.5,17 L631,17.5 L629,12 L626,15 Z" fill="#4a4a4a"/>
<path d="M651,11.5 h15 M658.5,4 v15" stroke="#444" stroke-width="1" shape-rendering="crispEdges"/>
<rect x="675" y="1" width="1" height="20" fill="#a0a0a0"/>
<rect x="692" y="5" width="1" height="13" fill="#444"/>
<rect x="715" y="11" width="14" height="1" fill="#444"/>
<path d="M743,18 L755,6" stroke="#444" stroke-width="1"/>
<path d="M769,13 L777,5 M771,18 L782,7 M774,13 l1,-2 l1,1 l1,-2 M780,5 v5" stroke="#333" stroke-width="1" fill="none"/>
<text x="780" y="20" font-size="7" fill="#333" text-anchor="start" font-weight="bold">E</text>
<path d="M798,4.5 h13" stroke="#444" stroke-dasharray="1,1" shape-rendering="crispEdges"/>
<path d="M798,7.5 h13" stroke="#444" stroke-dasharray="1,1" shape-rendering="crispEdges"/>
<path d="M798,11.5 h13" stroke="#444" stroke-dasharray="1,1" shape-rendering="crispEdges"/>
<path d="M798,15.5 h13" stroke="#444" stroke-dasharray="1,1" shape-rendering="crispEdges"/>
<text x="808" y="20" font-size="7" fill="#333" text-anchor="start" font-weight="bold">F</text>
<text x="828" y="16" font-size="12.5" fill="#444" text-anchor="start" font-weight="normal">A</text>
<rect x="855.5" y="5.5" width="11" height="12" fill="none" stroke="#555" stroke-dasharray="1,1.5" shape-rendering="crispEdges"/>
<rect x="854" y="4" width="2" height="2" fill="#555"/>
<text x="857" y="16" font-size="12" fill="#555" text-anchor="start" font-weight="normal">T</text>
<path d="M881.5,8.5 l3.5,-4 l3.5,4 l-3.5,1.5 z M889,13.5 l3.5,-1.5 l3.5,1.5 l-3.5,4.5 z" fill="#4a4a4a"/>
<path d="M884,12 l2,2 l4,-4" stroke="#333" fill="none"/>
<polygon points="903,10 908,10 905.5,13" fill="#000"/>
<rect x="914" y="1" width="1" height="20" fill="#a0a0a0"/>
<rect x="918" y="2" width="3" height="1" fill="#b8b8b8"/>
<rect x="918" y="4" width="3" height="1" fill="#b8b8b8"/>
<rect x="918" y="6" width="3" height="1" fill="#b8b8b8"/>
<rect x="918" y="8" width="3" height="1" fill="#b8b8b8"/>
<rect x="918" y="10" width="3" height="1" fill="#b8b8b8"/>
<rect x="918" y="12" width="3" height="1" fill="#b8b8b8"/>
<rect x="918" y="14" width="3" height="1" fill="#b8b8b8"/>
<rect x="918" y="16" width="3" height="1" fill="#b8b8b8"/>
<rect x="918" y="18" width="3" height="1" fill="#b8b8b8"/>
<text x="936" y="15" font-size="9.5" fill="#333" text-anchor="middle" font-weight="normal">M1</text>
<text x="964" y="15" font-size="9.5" fill="#333" text-anchor="middle" font-weight="normal">M5</text>
<text x="992" y="15" font-size="9.5" fill="#333" text-anchor="middle" font-weight="normal">M15</text>
<text x="1021" y="15" font-size="9.5" fill="#333" text-anchor="middle" font-weight="normal">M30</text>
<text x="1049" y="15" font-size="9.5" fill="#333" text-anchor="middle" font-weight="normal">H1</text>
<rect x="1065" y="1" width="24" height="20" fill="#f4f4f4"/>
<rect x="1064" y="1" width="1" height="20" fill="#a0a0a0"/>
<text x="1076" y="15" font-size="9.5" fill="#333" text-anchor="middle" font-weight="normal">H4</text>
<text x="1105" y="15" font-size="9.5" fill="#333" text-anchor="middle" font-weight="normal">D1</text>
<text x="1133" y="15" font-size="9.5" fill="#333" text-anchor="middle" font-weight="normal">W1</text>
<text x="1160" y="15" font-size="9.5" fill="#333" text-anchor="middle" font-weight="normal">MN</text>
<rect x="1175" y="1" width="1" height="20" fill="#a0a0a0"/>
<circle cx="1645.5" cy="8.5" r="4" fill="none" stroke="#2a5ad0" stroke-width="1.5"/>
<path d="M1642.5,11.5 l-4,4" stroke="#2a5ad0" stroke-width="2.2"/>
<path d="M1663,11 a6,4.5 0 1 1 6,5 l-4,3 v-3 a6,4.5 0 0 1 -2,-5 z" fill="#e4e4ec" stroke="#b0b0b8"/>
<circle cx="1676.5" cy="8.5" r="8" fill="#e02818"/>
<text x="1676.5" y="13" font-size="12" fill="#fff" text-anchor="middle" font-weight="normal" font-family="Liberation Serif, serif">1</text>
</g>
</svg></body></html>
